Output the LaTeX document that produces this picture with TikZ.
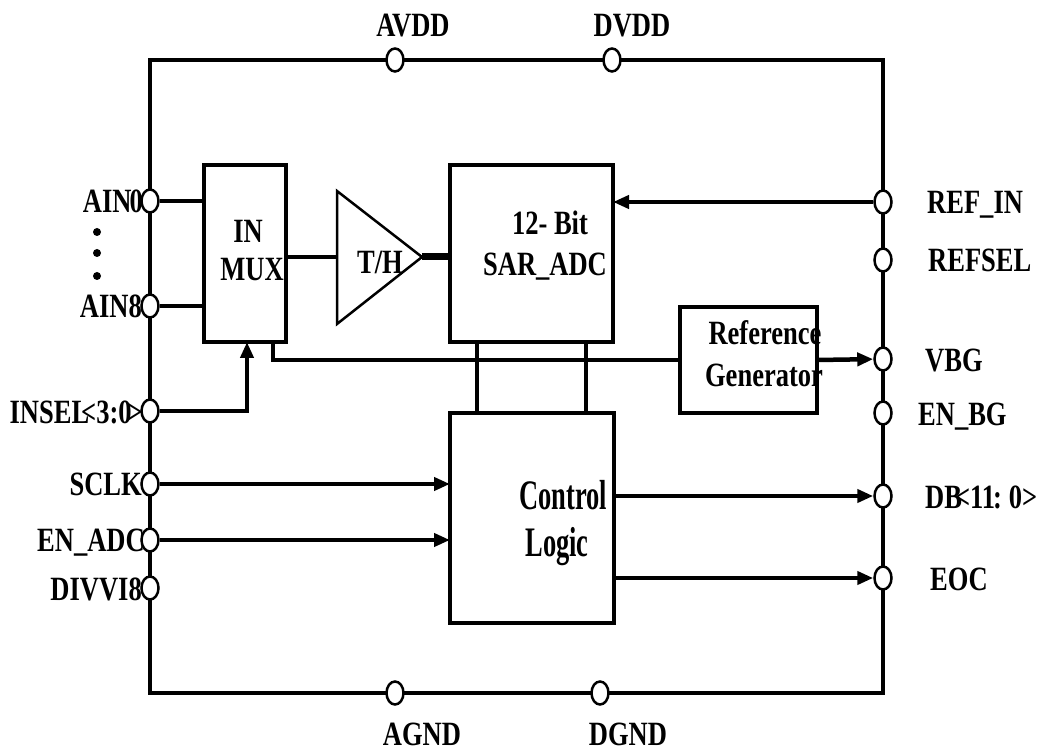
\documentclass[tikz,border=0pt]{standalone}
\usepackage{fontspec}
\setmainfont{Liberation Serif}[FakeStretch=0.78]
\newfontfamily\ctlfont{Liberation Serif}[FakeStretch=0.63]
\usetikzlibrary{arrows.meta,shapes.geometric}
\begin{document}
\begin{tikzpicture}[x=1pt,y=-1pt,
  lbl/.style={inner sep=0pt, font=\fontsize{34}{36}\selectfont\bfseries},
  ctltext/.style={inner sep=0pt, font=\ctlfont\fontsize{42}{44}\selectfont\bfseries},
  pin/.style={ellipse, draw, fill=white, line width=2.5pt, minimum width=17pt, minimum height=23pt, inner sep=0pt},
  blk/.style={draw, line width=4pt, inner sep=0pt, outer sep=0pt},
  conn/.style={line width=4.5pt},
  arr/.style={line width=4.5pt, -{Triangle[length=16pt,width=13pt]}},
  frame/.style={line width=3.5pt},
  dot/.style={circle, fill=black, minimum size=8pt, inner sep=0pt}]
\useasboundingbox (0,0) rectangle (1042,751);

% outer frame
\draw[frame] (150,60) rectangle (883,693);

% blocks
\node[blk, line width=3.5pt, minimum width=82pt, minimum height=177pt] (mux) at (245,253.5) {};
\draw[line width=2.5pt] (337,191) coordinate (thT) -- (337,324) coordinate (thB) -- (422,257) coordinate (thR) -- cycle;
\coordinate (thL) at (337,257);
\node[blk, minimum width=163pt, minimum height=177pt] (sar) at (531.5,253.5) {};
\node[blk, minimum width=164pt, minimum height=210pt] (ctl) at (532,518) {};
\node[blk, minimum width=137pt, minimum height=106pt] (rg) at (748.5,360) {};

% block texts
\node[lbl] (tIN) at (248,231) {IN};
\node[lbl] (tMUX) at (252,270) {MUX};
\node[lbl] (tTH) at (380,262) {T/H};
\node[lbl, anchor=base] (t12) at (550,235) {12- Bit};
\node[lbl, anchor=base] (tSAR) at (545,276) {SAR\_ADC};
\node[lbl, anchor=base] (tRef) at (765,345) {Reference};
\node[lbl, anchor=base] (tGen) at (764,387) {Generator};
\node[ctltext, anchor=base] (tCtl) at (563,509) {Control};
\node[ctltext, anchor=base] (tLog) at (557,556) {Logic};

% pins
\node[pin] (avdd) at (395,60) {};
\node[pin] (dvdd) at (612,60) {};
\node[pin] (agnd) at (395,693) {};
\node[pin] (dgnd) at (600,693) {};
\node[pin] (ain0) at (150,201) {};
\node[pin] (ain8) at (150,306) {};
\node[pin] (insel) at (150,411) {};
\node[pin] (sclk) at (150,484) {};
\node[pin] (enadc) at (150,540) {};
\node[pin] (divvi) at (150,588) {};
\node[pin] (refin) at (883,202) {};
\node[pin] (refsel) at (883,260) {};
\node[pin] (vbg) at (883,359) {};
\node[pin] (enbg) at (883,413) {};
\node[pin] (db) at (883,496) {};
\node[pin] (eoc) at (883,578) {};

% pin labels
\node[lbl] (lAVDD) at (413,26) {AVDD};
\node[lbl] (lDVDD) at (632,26) {DVDD};
\node[lbl] (lAGND) at (422,734) {AGND};
\node[lbl] (lDGND) at (628,734) {DGND};
\node[lbl, anchor=base east] (lAIN0) at (143,213) {AIN\kern-2pt0};
\node[lbl, anchor=base east] (lAIN8) at (142,318) {AIN8};
\node[lbl, anchor=base east] (lINSEL) at (143,423) {INSEL\kern-8pt<3:0\kern-4pt>};
\node[lbl, anchor=base east] (lSCLK) at (142,495) {SCLK};
\node[lbl, anchor=base east] (lEN) at (145,551) {EN\_ADC};
\node[lbl, anchor=base east] (lDIV) at (142,600) {DIVVI8};
\node[lbl, anchor=base west] (lREFIN) at (927,214) {REF\_IN};
\node[lbl, anchor=base west] (lREFSEL) at (928,272) {REFSEL};
\node[lbl, anchor=base west] (lVBG) at (925,371) {VBG};
\node[lbl, anchor=base west] (lENBG) at (918,425) {EN\_BG};
\node[lbl, anchor=base west] (lDB) at (925,508) {DB\kern-7pt<11\kern-2pt:\kern-2pt{} 0>};
\node[lbl, anchor=base west] (lEOC) at (930,590) {EOC};

% dots
\node[dot] (d1) at (97,232) {};
\node[dot] (d2) at (97,253) {};
\node[dot] (d3) at (97,276) {};

% connectors
\draw[conn] (ain0) -- (ain0 -| mux.west);
\draw[conn] (ain8) -- (ain8 -| mux.west);
\draw[arr] (insel) -| ([xshift=2pt]mux.south);
\draw[line width=4pt] (mux.east |- thL) -- (thL);
\draw[line width=7pt] (thR) -- (thR -| sar.west);
\draw[arr] (refin) -- (refin -| sar.east);
\draw[line width=4pt] ([xshift=-13pt]mux.south east) |- (rg.west);
\draw[arr] (rg.east) -- (vbg);
\draw[line width=4pt] ([xshift=-54.5pt]sar.south) -- ([xshift=-54.5pt]sar.south |- ctl.north);
\draw[line width=4pt] ([xshift=54.5pt]sar.south) -- ([xshift=54.5pt]sar.south |- ctl.north);
\draw[arr] (sclk) -- (sclk -| ctl.west);
\draw[arr] (enadc) -- (enadc -| ctl.west);
\draw[arr] (db -| ctl.east) -- (db);
\draw[arr] (eoc -| ctl.east) -- (eoc);
\end{tikzpicture}
\end{document}
